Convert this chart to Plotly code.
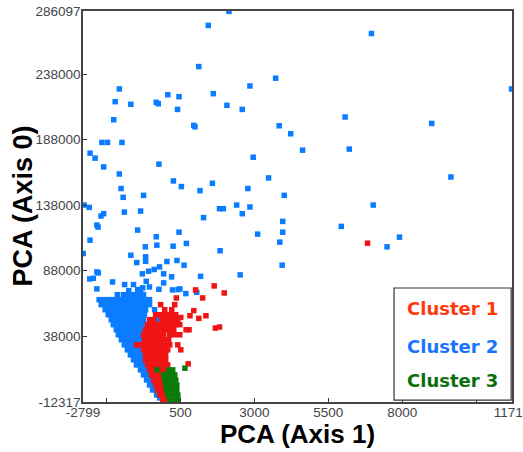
import plotly.graph_objects as go

# ---------------- data ----------------
# Cluster 2 (blue) - scattered points
c2_sparse_x = [-2760, -2590, -2560, -2330, -2290, -2190, -2100, -2560, -2390, -2160, -1970, -2100,
               -1760, -1710, -1570, -1480, -1570, -1510, -1440, -1400, -1180, -950, -850, -750,
               -320, -250, -320, -230, 70, 260, 400, 450, 530, 450, 950, 990, 1120, 1160, 1280,
               1580, 1610, 1820, 1950, 2070, 2400, 2590, 2590, 2780, 2850, 2850, 2960, 3110, 3480,
               3720, 3840, 3960, 3960, 4010, 4230, 4630, 2140, 1440, 6960, 6070, 9000, 11700, 6210,
               9650, 7020, 5940, 7910, 7490, 3940, 3860, 1840, 2520, 1180, 700, 620, 1050, 680, 480,
               -2790, -1180, -690, -300, 250, -980, -680, -680, 40, 380, -2330, -2280, -2570, -2450,
               -790, -580, -390, -210, -660, -70, -70, 200, -2330, -1800, -1390, -1250, -1090, -950,
               -850, -780, -550, -230, 230, 420]
c2_sparse_y = [138000, 136200, 111200, 122700, 121200, 129600, 131400, 177600, 173800, 185800, 185800, 167100,
               203100, 216900, 226600, 185800, 161700, 150600, 143900, 132600, 214900, 118900, 133400, 145400,
               216400, 215300, 113800, 169200, 222200, 156400, 211000, 220700, 152100, 117300, 198800, 197700, 243700, 149000, 128400,
               154600, 223000, 135200, 135200, 214100, 138000, 131400, 211000, 150600, 136500, 228900, 174500, 115800, 158700,
               234800, 198500, 125500, 117300, 145400, 192400, 179900, 285800, 275100, 268900, 205200, 200300, 226600, 180700,
               159400, 138000, 121700, 113500, 106100, 92100, 109700, 103100, 84700, 83600, 108700, 92100, 71400, 70400, 74000,
               101000, 99700, 106100, 107400, 106600, 94100, 98500, 95100, 94900, 95700, 87000, 86200, 81600, 82100,
               85500, 87500, 88800, 90800, 79800, 85500, 78600, 83200, 74000, 79300, 77300, 72700, 77300, 73500,
               73500, 74800, 75500, 73700, 73200, 73500]

# Cluster 2 (blue) - dense band
c2_dense_x = [-1638, -1434, -1297, -1161, -1024, -888, -752,
              -2252, -2081, -1911, -1774, -1638, -1502, -1365, -1229, -1093, -956, -820, -683, -547,
              -2184, -2047, -1911, -1774, -1638, -1502, -1365, -1229, -1093, -956, -820, -683, -547,
              -2047, -1911, -1774, -1638, -1502, -1365, -1229, -1093, -956, -820, -683, -376,
              -1945, -1809, -1672, -1536, -1400, -1263, -1127, -990, -854, -718,
              -1843, -1706, -1570, -1434, -1297, -1161, -1024, -888, -752, -250,
              -1774, -1638, -1502, -1365, -1229, -1093, -956, -820, -718,
              -1672, -1536, -1400, -1263, -1127, -990, -854,
              -1604, -1468, -1331, -1195, -1059, -922, -820,
              -1502, -1365, -1229, -1093, -956, -820,
              -1400, -1263, -1127,
              -1297, -1161, -1024, -888,
              -1195, -1059, -922, -786,
              -1093, -956, -820,
              -990, -854, -718,
              -854, -718,
              -752, -615,
              -649, -513,
              -547, -445,
              -445, -342,
              -308, -240,
              -206]
c2_dense_y = [69600] * 7 + [65800] * 13 + [62000] * 13 + [58100] * 12 + [54300] * 10 + \
             [50500] * 10 + [46700] * 9 + [42800] * 7 + [39000] * 7 + [35200] * 6 + \
             [31300] * 3 + [27500] * 4 + [23700] * 4 + [19900] * 3 + [16000] * 3 + \
             [12200] * 2 + [8400] * 2 + [4500] * 2 + [700] * 2 + [-3100] * 2 + [-6900] * 2 + [-9200]

# Cluster 1 (red)
c1_x = [6830, 1010, 1640, 1980, 1250, 360, 950, 820, 510, 1120, 1360, 690, 1680, 1820, 760, 790,
        -172, 306,
        -35, 204,
        -342, -206, -69, 67, 204, 340,
        -547, -410, -138, -1, 135, 272, 408,
        -615, -479, -342, -206, -69, 67, 204, 340, 476,
        -683, -547, -410, -274, -138, -1, 135, 272,
        -752, -615, -479, -342, -206, -69, 135, 306, 476,
        -718, -581, -445, -308, -172, -35, 101,
        -990, -854, -718, -581, -445, -308, -172, -35, 135, 408,
        -752, -615, -479, -342, -206, -69, 67, 510,
        -683, -547, -410, -274, -138, -1,
        -683, -547, -410, -274, -138, -1,
        -615, -479, -342, -206, -69, 67,
        -547, -410, -274, -138, -1,
        -479, -342, -206,
        -410, -274, -138,
        -342, -206, -104,
        -274, -138, -35,
        -206, -104, -1,
        -104, 33]
c1_y = [108900, 73200, 76300, 70900, 67100, 67100, 57400, 53500, 52200, 51500, 53500, 42800, 44100, 44900, 16800, 42800] + \
       [62000] * 2 + [58100] * 2 + [54300] * 6 + [50500] * 7 + [46700] * 9 + [42800] * 8 + \
       [39000] * 9 + [35200] * 7 + [31300] * 10 + [27500] * 8 + [23700] * 6 + [19900] * 6 + \
       [16000] * 6 + [12200] * 5 + [8400] * 3 + [4500] * 3 + [700] * 3 + [-3100] * 3 + \
       [-6900] * 3 + [-10800] * 2

# Cluster 3 (green)
c3_x = [650, -300, 101, 238,
        -69, 67, 204, 306,
        -35, 101, 238, 340,
        -1, 135, 272, 374,
        33, 169, 306, 374,
        67, 204, 340, 408,
        135, 272, 408]
c3_y = [13500, 12200, 12200, 12200] + [8400] * 4 + [4500] * 4 + [700] * 4 + [-3100] * 4 + \
       [-6900] * 4 + [-10800] * 3

x_tickvals = [-2799, -2000, 500, 3000, 5500, 8000, 10500, 11717]
x_ticktext = ["-2799", "", "500", "3000", "5500", "8000", "", "11717"]
y_tickvals = [-12317, 38000, 88000, 138000, 188000, 238000, 286097]
y_ticktext = ["-12317", "38000", "88000", "138000", "188000", "238000", "286097"]

legend_names = ["Cluster 1", "Cluster 2", "Cluster 3"]
legend_colors = ["#ff3a0a", "#1a73ff", "#0a6e0a"]

# ---------------- figure ----------------
BLUE = "#0a7cff"
RED = "#f01414"
GREEN = "#0a7a0a"

mk = dict(symbol="square", size=5.5, line=dict(width=0))

fig = go.Figure()
fig.add_trace(go.Scatter(x=c2_sparse_x + c2_dense_x, y=c2_sparse_y + c2_dense_y, mode="markers",
                         marker=dict(color=BLUE, **mk), name="Cluster 2", showlegend=False))
fig.add_trace(go.Scatter(x=c1_x, y=c1_y, mode="markers",
                         marker=dict(color=RED, **mk), name="Cluster 1", showlegend=False))
fig.add_trace(go.Scatter(x=c3_x, y=c3_y, mode="markers",
                         marker=dict(color=GREEN, **mk), name="Cluster 3", showlegend=False))

tickfont = dict(family="Liberation Sans, Arial", size=13.5, color="#444")

fig.update_layout(
    width=523, height=452,
    margin=dict(l=83, r=11, t=11, b=50),
    paper_bgcolor="white", plot_bgcolor="white",
    xaxis=dict(range=[-2799, 11717], tickmode="array", tickvals=x_tickvals, ticktext=x_ticktext,
               ticks="inside", ticklen=4, tickcolor="#333", showgrid=False, zeroline=False,
               showline=True, linecolor="#444", linewidth=1.5, mirror=True, tickfont=tickfont,
               ticklabeloverflow="allow", ticklabelstandoff=-3, automargin=False),
    yaxis=dict(range=[-12317, 286097], tickmode="array", tickvals=y_tickvals, ticktext=y_ticktext,
               ticks="inside", ticklen=4, tickcolor="#333", showgrid=False, zeroline=False,
               showline=True, linecolor="#444", linewidth=1.5, mirror=True, tickfont=tickfont,
               ticklabeloverflow="allow", ticklabelstandoff=-2, automargin=False),
)

# axis titles
fig.add_annotation(text="<b>PCA (Axis 1)</b>", xref="paper", yref="paper", x=0.5, y=-0.083,
                   showarrow=False, xanchor="center", yanchor="middle",
                   font=dict(family="Liberation Sans, Arial", size=26, color="black"))
fig.add_annotation(text="<b>PCA (Axis 0)</b>", xref="paper", yref="paper", x=-0.142, y=0.5,
                   showarrow=False, xanchor="center", yanchor="middle", textangle=-90,
                   font=dict(family="Liberation Sans, Arial", size=27, color="black"))

# legend box
fig.add_shape(type="rect", xref="paper", yref="paper", x0=0.725, x1=0.998, y0=0.005, y1=0.2916,
              line=dict(color="#333", width=1.2), fillcolor="white", layer="above")
for name, col, yy in zip(legend_names, legend_colors, [0.240, 0.143, 0.056]):
    fig.add_annotation(text="<b>%s</b>" % name, xref="paper", yref="paper", x=0.861, y=yy,
                       showarrow=False, xanchor="center", yanchor="middle",
                       font=dict(family="DejaVu Sans", size=18, color=col))

fig.write_html("out.html")
